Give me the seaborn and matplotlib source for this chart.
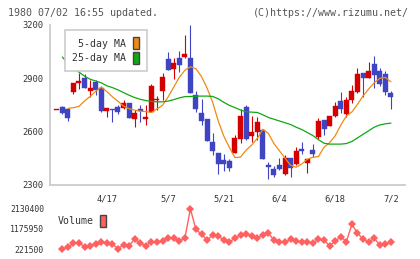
import numpy as np
import pandas as pd
import matplotlib
matplotlib.use("Agg")
import matplotlib.pyplot as plt
import seaborn as sns
from matplotlib.patches import Patch

sns.set_style("white")
plt.rcParams['font.family'] = ['DejaVu Sans Mono', 'DejaVu Sans']

nan = np.nan

# daily candles (trading days 4/4 .. 7/2)
opens = [2722, 2740, 2729, 2825, 2876, 2904, 2829, 2881, 2848, 2718,
         2725, 2740, 2731, 2759, 2669, 2729, 2673, 2712, 2778, 2831,
         3009, 2952, 3014, 3022, 3013, 2806, 2705, 2669, 2542, 2480,
         2441, 2437, 2482, 2561, 2737, 2576, 2598, 2609, 2413, 2390,
         2412, 2364, 2452, 2418, 2504, 2425, 2497, 2572, 2666, 2632,
         2688, 2774, 2699, 2778, 2823, 2932, 2904, 2981, 2941, 2924, 2817]
highs = [2722, 2744, 2729, 2876, 2928, 2922, 2891, 2891, 2857, 2733,
         2728, 2750, 2778, 2759, 2722, 2748, 2750, 2866, 2801, 2932,
         3048, 3012, 3056, 3142, 3200, 2831, 2786, 2669, 2591, 2480,
         2474, 2444, 2581, 2726, 2750, 2688, 2682, 2617, 2429, 2409,
         2452, 2471, 2452, 2514, 2542, 2446, 2531, 2677, 2666, 2688,
         2767, 2823, 2793, 2863, 2958, 2932, 2992, 3026, 2958, 2941, 2829]
lows = [2722, 2699, 2662, 2812, 2838, 2844, 2797, 2806, 2713, 2684,
        2656, 2697, 2726, 2679, 2624, 2656, 2636, 2712, 2722, 2778,
        2947, 2894, 2936, 3016, 2819, 2711, 2636, 2549, 2471, 2364,
        2381, 2381, 2482, 2534, 2553, 2542, 2553, 2448, 2332, 2343,
        2385, 2358, 2347, 2412, 2476, 2369, 2459, 2557, 2583, 2632,
        2684, 2703, 2684, 2763, 2818, 2797, 2904, 2847, 2859, 2808, 2729]
closes = [2722, 2703, 2679, 2876, 2885, 2847, 2846, 2834, 2718, 2733,
          2722, 2712, 2759, 2679, 2703, 2714, 2684, 2859, 2782, 2909,
          2947, 2988, 2975, 3039, 2819, 2729, 2662, 2549, 2493, 2416,
          2418, 2394, 2564, 2688, 2561, 2598, 2654, 2448, 2403, 2358,
          2390, 2452, 2397, 2491, 2493, 2446, 2474, 2660, 2617, 2688,
          2744, 2729, 2778, 2829, 2924, 2904, 2941, 2919, 2868, 2825, 2797]

ma5 = [nan, nan, 2731, 2735, 2742, 2773, 2798, 2827, 2850, 2826,
       2796, 2771, 2744, 2729, 2721, 2715, 2713, 2708, 2728, 2748,
       2795, 2850, 2905, 2945, 2965, 2954, 2910, 2845, 2765, 2660,
       2575, 2512, 2454, 2457, 2496, 2525, 2561, 2613, 2590, 2533,
       2492, 2451, 2410, 2400, 2418, 2445, 2456, 2460, 2513, 2538,
       2577, 2637, 2688, 2711, 2754, 2801, 2840, 2875, 2900, 2905, 2880]
ma25 = [nan, 3020, 2985, 2960, 2935, 2912, 2895, 2885, 2875, 2858,
        2848, 2835, 2820, 2805, 2792, 2782, 2775, 2770, 2768, 2768,
        2772, 2780, 2790, 2797, 2798, 2800, 2800, 2800, 2798, 2785,
        2765, 2748, 2735, 2722, 2712, 2710, 2708, 2695, 2680, 2670,
        2660, 2650, 2640, 2625, 2612, 2595, 2578, 2555, 2535, 2530,
        2530, 2530, 2533, 2545, 2565, 2585, 2605, 2625, 2638, 2644, 2648]

# volume starts on the second day
volume = [221500, 303000, 494000, 522000, 331000, 379000, 460000, 541000, 494000, 446000,
          237000, 412000, 379000, 699000, 494000, 379000, 570000, 541000, 603000, 761000,
          732000, 603000, 732000, 2130400, 1161000, 923000, 651000, 890000, 842000, 651000,
          570000, 732000, 890000, 937000, 842000, 761000, 890000, 970000, 651000, 570000,
          541000, 684000, 603000, 541000, 570000, 494000, 699000, 651000, 365000, 603000,
          810000, 570000, 1400000, 970000, 699000, 541000, 732000, 412000, 460000, 541000]

date_days = [9, 20, 30, 40, 50, 60]
date_labels = ['4/17', '5/7', '5/21', '6/4', '6/18', '7/2']
price_ticks = [2300, 2600, 2900, 3200]
vol_ticks = [221500, 1175950, 2130400]

df = pd.DataFrame({'open': opens, 'high': highs, 'low': lows, 'close': closes,
                   'ma5': ma5, 'ma25': ma25})
df['day'] = np.arange(len(df))
df['up'] = df['close'] >= df['open']
df['color'] = np.where(df['up'], '#d40000', '#3f45c2')
df['body_lo'] = df[['open', 'close']].min(axis=1)
df['body_h'] = (df['close'] - df['open']).abs().clip(lower=4)

vdf = pd.DataFrame({'day': np.arange(1, len(volume) + 1), 'volume': volume})

fig = plt.figure(figsize=(4.2, 2.59), dpi=100)
ax = fig.add_axes([50 / 420, 74 / 259, 355 / 420, 160 / 259])
vax = fig.add_axes([50 / 420, 4 / 259, 355 / 420, 52 / 259])

xlim = (-1.2, 62.53)

# candles
ax.vlines(df['day'], df['low'], df['high'], colors=df['color'], linewidth=0.8, zorder=2)
ax.bar(df['day'], df['body_h'], bottom=df['body_lo'], width=0.9, color=df['color'],
       edgecolor=df['color'], linewidth=0.3, zorder=3)

sns.lineplot(data=df, x='day', y='ma5', ax=ax, color='#f08a10', linewidth=0.9, zorder=4)
sns.lineplot(data=df, x='day', y='ma25', ax=ax, color='#10a810', linewidth=0.9, zorder=4)

ax.set_xlim(xlim)
ax.set_ylim(2300, 3200)
ax.set_xlabel('')
ax.set_ylabel('')
for s in ['top', 'right']:
    ax.spines[s].set_visible(False)
for s in ['left', 'bottom']:
    ax.spines[s].set_color('#cccccc')
    ax.spines[s].set_linewidth(1.3)

ax.set_yticks(price_ticks)
ax.set_yticklabels([str(p) for p in price_ticks])
ax.tick_params(axis='y', direction='inout', length=6, width=1.2, color='#cccccc',
               labelsize=6.3, labelcolor='#333333', pad=2)
ax.set_xticks(date_days)
ax.set_xticklabels(date_labels)
ax.set_xticks(np.linspace(xlim[0], xlim[1], 12), minor=True)
ax.tick_params(axis='x', which='major', length=0, labelsize=6.3, labelcolor='#333333', pad=7)
ax.tick_params(axis='x', which='minor', direction='inout', length=5, width=1.2, color='#cccccc')

handles = [Patch(facecolor='#f08a10', edgecolor='#444444', label='5-day MA'),
           Patch(facecolor='#10a810', edgecolor='#444444', label='25-day MA')]
leg = ax.legend(handles=handles, loc='upper left', bbox_to_anchor=(15 / 355, 1 - 5 / 160),
                markerfirst=False, frameon=True, fancybox=False, edgecolor='#cccccc',
                fontsize=7.1, handlelength=0.6, handleheight=1.5, handletextpad=0.7,
                labelspacing=0.25, borderpad=0.75, borderaxespad=0, framealpha=1)
leg.get_frame().set_linewidth(1.2)
for t in leg.get_texts():
    t.set_color('#333333')
leg.set_zorder(10)

# volume panel
sns.lineplot(data=vdf, x='day', y='volume', ax=vax, color='#ff6060', linewidth=1,
             marker='D', markersize=4.5, markeredgewidth=0)
vax.set_xlim(xlim)
vax.set_ylim(-64830, 2416700)
vax.set_xlabel('')
vax.set_ylabel('')
for s in vax.spines.values():
    s.set_visible(False)
vax.set_xticks([])
vax.set_yticks(vol_ticks)
vax.set_yticklabels([str(v) for v in vol_ticks])
vax.tick_params(axis='y', length=0, labelsize=5.9, labelcolor='#333333', pad=4.3)

vleg = vax.legend(handles=[Patch(facecolor='#ff6060', edgecolor='#444444', label='Volume')],
                  loc='center left', bbox_to_anchor=(8 / 355, (255 - 221) / 52),
                  markerfirst=False, frameon=False, fontsize=7.1, handlelength=0.6,
                  handleheight=1.45, handletextpad=0.6, borderpad=0, borderaxespad=0)
for t in vleg.get_texts():
    t.set_color('#333333')

fig.text(8 / 420, 1 - 12.5 / 259, '1980 07/02 16:55 updated.', ha='left', va='center',
         fontsize=7.2, color='#555555')
fig.text(409 / 420, 1 - 12.5 / 259, '(C)https://www.rizumu.net/', ha='right', va='center',
         fontsize=7.2, color='#555555')

fig.savefig('out.png', dpi=100)
